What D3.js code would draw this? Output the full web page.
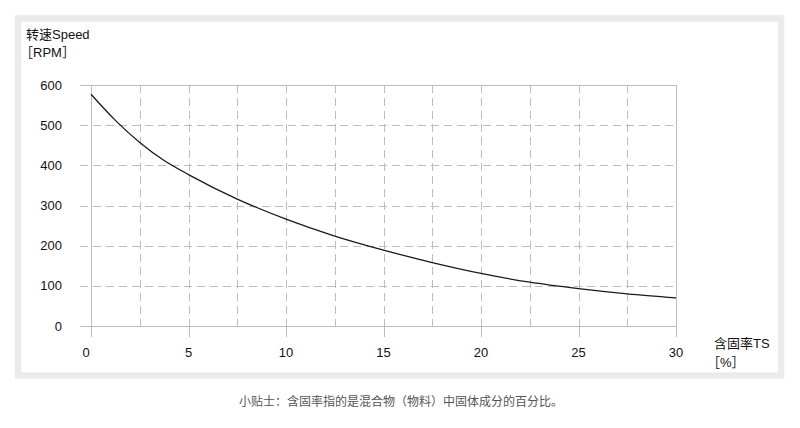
<!DOCTYPE html>
<html><head><meta charset="utf-8">
<script src="https://cdn.jsdelivr.net/npm/d3@7"></script>
<style>
body{margin:0;background:#fff;}
svg text{font-family:"Liberation Sans",Arial,"Noto Sans CJK SC",sans-serif;}
.cjk{font-family:"Noto Sans CJK SC",sans-serif;}
</style></head>
<body><svg id="c" width="800" height="428"></svg>
<script>
const tsValues = [0, 1.25, 2.5, 3.75, 5, 7.5, 10, 12.5, 15, 17.5, 20, 22.5, 25, 27.5, 30];
const speedValues = [577, 512, 457, 412, 377, 316, 266, 224, 189, 158, 131, 109, 93, 80, 70];
const xTickLabels = [0, 5, 10, 15, 20, 25, 30];
const xGridValues = [2.5, 5, 7.5, 10, 12.5, 15, 17.5, 20, 22.5, 25, 27.5];
const yTickLabels = [0, 100, 200, 300, 400, 500, 600];
const yTitle = ["转速Speed", "RPM"];
const xTitle = ["含固率TS", "%"];
const caption = "小贴士：含固率指的是混合物（物料）中固体成分的百分比。";

const svg = d3.select("#c");
const x = d3.scaleLinear().domain([0, 30]).range([91, 676]);
const y = d3.scaleLinear().domain([0, 600]).range([326, 85]);

svg.append("rect").attr("x", 18).attr("y", 18.5).attr("width", 763).attr("height", 357)
  .attr("fill", "none").attr("stroke", "#ebebeb").attr("stroke-width", 6.5);

const grid = svg.append("g").attr("stroke", "#bdbdbd").attr("stroke-width", 1);
yTickLabels.forEach(v => {
  grid.append("line").attr("x1", 80).attr("x2", x(30))
    .attr("y1", Math.round(y(v)) + 0.5).attr("y2", Math.round(y(v)) + 0.5)
    .attr("stroke-dasharray", (v === 0 || v === 600) ? null : "8,5");
});
xGridValues.forEach(v => {
  grid.append("line").attr("x1", Math.round(x(v)) + 0.5).attr("x2", Math.round(x(v)) + 0.5)
    .attr("y1", y(600)).attr("y2", y(0)).attr("stroke-dasharray", "8,5");
});
[0, 30].forEach(v => {
  grid.append("line").attr("x1", Math.round(x(v)) + 0.5).attr("x2", Math.round(x(v)) + 0.5)
    .attr("y1", y(600)).attr("y2", y(0));
});
xTickLabels.forEach(v => {
  grid.append("line").attr("x1", Math.round(x(v)) + 0.5).attr("x2", Math.round(x(v)) + 0.5)
    .attr("y1", y(0)).attr("y2", y(0) + 11);
});

svg.append("g").selectAll("text").data(yTickLabels).join("text")
  .attr("x", 62).attr("y", d => y(d)).attr("dy", "0.35em")
  .attr("text-anchor", "end").attr("font-size", 13).attr("fill", "#111").text(d => d);
svg.append("g").selectAll("text").data(xTickLabels).join("text")
  .attr("x", d => x(d) - (d === 0 ? 5 : 0)).attr("y", 357)
  .attr("text-anchor", "middle").attr("font-size", 13).attr("fill", "#111").text(d => d);

function bracketed(xPos, yPos, inner) {
  const t = svg.append("text").attr("x", xPos).attr("y", yPos).attr("font-size", 13).attr("fill", "#111");
  t.append("tspan").attr("class", "cjk").text("［");
  t.append("tspan").text(inner);
  t.append("tspan").attr("class", "cjk").text("］");
}
svg.append("text").attr("x", 26).attr("y", 39).attr("font-size", 13).attr("fill", "#111").text(yTitle[0]);
bracketed(20, 57, yTitle[1]);
svg.append("text").attr("x", 714).attr("y", 348).attr("font-size", 13).attr("fill", "#111").text(xTitle[0]);
bracketed(707, 367, xTitle[1]);

svg.append("text").attr("x", 401).attr("y", 406).attr("text-anchor", "middle")
  .attr("font-size", 12).attr("fill", "#555").text(caption);

const data = tsValues.map((t, i) => [t, speedValues[i]]);
svg.append("path").datum(data)
  .attr("d", d3.line().x(d => x(d[0])).y(d => y(d[1])).curve(d3.curveMonotoneX))
  .attr("fill", "none").attr("stroke", "#1a1a1a").attr("stroke-width", 1.3);
</script></body></html>
